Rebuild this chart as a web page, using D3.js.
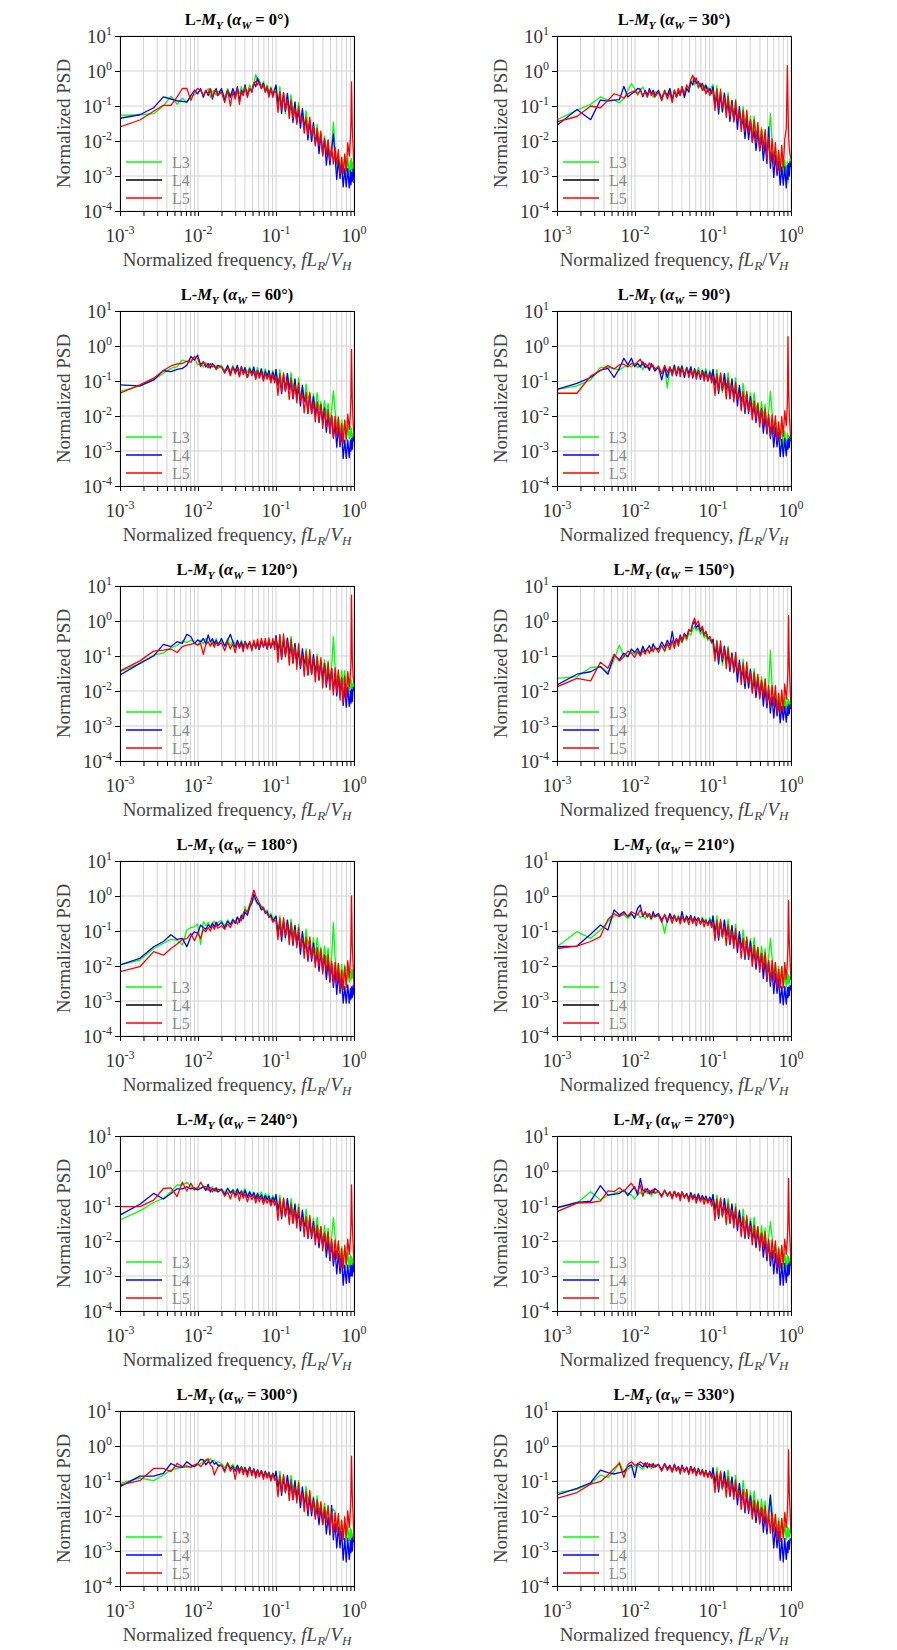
<!DOCTYPE html>
<html><head><meta charset="utf-8">
<script src="https://cdn.jsdelivr.net/npm/d3@7"></script>
<style>
body{margin:0;background:#fff}
svg{display:block}
text{font-family:"Liberation Serif","Times New Roman",serif}
</style>
</head><body>
<script>
// ---------- DATA ----------
const freq = [0.001,0.0018,0.0027,0.0036,0.0045,0.0054,0.0063,0.0072,0.0081,0.009,0.0099,0.0108,0.0117,0.0126,0.0135,0.0144,0.0153,0.0162,0.0171,0.018,
0.02,0.022,0.024,0.026,0.028,0.03,0.032,0.034,0.036,0.038,0.04,0.043,0.046,0.049,0.052,0.055,0.058,0.061,0.065,0.069,0.073,0.077,0.081,0.086,0.091,0.096,
0.1,0.106,0.112,0.118,0.125,0.132,0.14,0.148,0.156,0.165,0.175,0.185,0.195,0.206,0.218,0.23,0.243,0.257,0.271,0.286,0.302,0.319,0.337,0.356,0.376,0.397,0.419,0.442,0.466,0.491,0.517,0.544,0.572,0.601,0.631,0.662,0.694,0.727,0.761,0.796,0.832,0.869,0.9,0.915,0.93,0.95,0.975,1.0];

const angles = [0,30,60,90,120,150,180,210,240,270,300,330];
const seriesNames = ["L3","L4","L5"];
const seriesColors = ["#00ff00","#0000ff","#ff0000"];
const blackLegendL4Angles = [0,30,180,210];
const yTickExps = [1,0,-1,-2,-3,-4];
const xTickExps = [-3,-2,-1,0];

// log10 of normalized PSD, one value per frequency in `freq`
const L3_0 = [-1.27,-1.25,-1.22,-1.0,-0.72,-0.95,-0.78,-0.9,-0.72,-0.68,-0.62,-0.55,-0.7,-0.6,-0.5,-0.75,-0.6,-0.55,-0.7,-0.6,
-0.55,-0.75,-0.5,-0.7,-0.55,-0.8,-0.5,-0.65,-0.45,-0.7,-0.5,-0.6,-0.4,-0.55,-0.35,-0.1,-0.3,-0.25,-0.45,-0.3,-0.55,-0.4,-0.6,-0.45,-0.65,-0.5,
-0.44,-0.98,-0.45,-0.94,-0.71,-1.22,-0.66,-1.16,-0.68,-1.17,-0.91,-1.46,-0.9,-1.44,-1.15,-1.65,-1.13,-1.6,-1.48,-1.99,-1.49,-2.03,-1.52,-2.08,-1.83,-2.35,-1.86,-2.38,-1.97,-2.66,-2.2,-1.46,-2.21,-2.81,-2.41,-2.98,-2.46,-2.87,-2.4,-2.98,-2.5,-2.91,-2.55,-2.85,-2.5,-2.9,-2.6,-2.95];
const L4_0 = [-1.35,-1.25,-1.05,-0.74,-0.8,-0.85,-0.87,-0.89,-0.7,-0.55,-0.65,-0.5,-0.75,-0.55,-0.7,-0.5,-0.8,-0.6,-0.5,-0.7,
-0.5,-0.85,-0.55,-0.75,-0.5,-0.7,-0.45,-0.85,-0.55,-0.65,-0.4,-0.7,-0.5,-0.6,-0.35,-0.45,-0.2,-0.35,-0.5,-0.35,-0.6,-0.45,-0.7,-0.5,-0.7,-0.55,
-0.4,-0.92,-0.66,-1.21,-0.62,-1.15,-0.64,-1.17,-0.89,-1.47,-0.88,-1.46,-1.11,-1.63,-1.07,-1.57,-1.41,-1.97,-1.42,-2.01,-1.47,-2.07,-1.78,-2.36,-1.82,-2.39,-1.94,-2.69,-2.18,-2.68,-2.24,-1.8,-2.47,-3.1,-2.54,-3.08,-2.65,-3.31,-2.79,-3.31,-2.79,-3.34,-2.85,-3.25,-2.9,-3.15,-2.8,-3.2];
const L5_0 = [-1.6,-1.4,-1.15,-0.98,-0.98,-0.74,-0.5,-0.5,-0.84,-0.6,-0.5,-0.55,-0.7,-0.55,-0.65,-0.5,-0.75,-0.6,-0.55,-0.7,
-0.6,-0.9,-0.55,-1.0,-0.6,-0.8,-0.5,-0.95,-0.6,-0.7,-0.45,-0.75,-0.5,-0.6,-0.35,-0.3,-0.4,-0.3,-0.5,-0.4,-0.6,-0.45,-0.75,-0.5,-0.75,-0.55,
-0.62,-1.18,-0.59,-1.08,-0.62,-1.11,-0.82,-1.36,-0.82,-1.36,-1.06,-1.53,-1.0,-1.43,-1.3,-1.78,-1.32,-1.83,-1.32,-1.85,-1.59,-2.14,-1.64,-2.13,-1.72,-2.43,-1.97,-2.38,-1.97,-2.55,-2.15,-2.66,-2.19,-2.65,-2.25,-2.93,-2.47,-2.93,-2.37,-2.86,-2.05,-2.43,-1.9,-1.5,-0.31,-1.6,-2.2,-2.8];

const L3_30 = [-1.4,-1.12,-0.95,-0.74,-0.83,-0.83,-0.91,-0.79,-0.55,-0.36,-0.5,-0.7,-0.55,-0.46,-0.6,-0.7,-0.55,-0.65,-0.75,-0.6,
-0.6,-0.75,-0.55,-0.7,-0.5,-0.75,-0.6,-0.7,-0.5,-0.65,-0.55,-0.7,-0.45,-0.6,-0.35,-0.25,-0.4,-0.3,-0.5,-0.4,-0.55,-0.4,-0.5,-0.45,-0.6,-0.45,
-0.39,-0.94,-0.42,-0.91,-0.66,-1.19,-0.61,-1.11,-0.62,-1.11,-0.84,-1.39,-0.81,-1.39,-1.08,-1.56,-1.02,-1.46,-1.32,-1.81,-1.29,-1.83,-1.29,-1.88,-1.61,-2.12,-1.61,-2.16,-1.74,-2.41,-1.94,-1.22,-1.99,-2.63,-2.17,-2.79,-2.26,-2.83,-2.37,-3.06,-2.54,-2.96,-2.6,-3.2,-2.7,-2.9,-2.5,-2.6];
const L4_30 = [-1.55,-1.1,-1.39,-0.83,-0.86,-0.83,-0.82,-0.44,-0.74,-0.65,-0.6,-0.5,-0.52,-0.74,-0.55,-0.7,-0.5,-0.65,-0.55,-0.7,
-0.55,-0.8,-0.6,-0.7,-0.5,-0.85,-0.55,-0.75,-0.6,-0.7,-0.45,-0.75,-0.5,-0.6,-0.3,-0.4,-0.2,-0.35,-0.3,-0.45,-0.35,-0.55,-0.4,-0.6,-0.5,-0.65,
-0.45,-0.96,-0.69,-1.23,-0.63,-1.16,-0.64,-1.17,-0.87,-1.44,-0.84,-1.41,-1.05,-1.66,-1.02,-1.56,-1.37,-1.93,-1.36,-1.96,-1.44,-2.01,-1.71,-2.27,-1.73,-2.28,-1.84,-2.56,-2.04,-2.64,-1.6,-2.78,-2.32,-3.04,-2.41,-2.98,-2.59,-3.26,-2.74,-3.26,-2.74,-3.34,-2.7,-3.1,-2.65,-3.0,-2.6,-2.75];
const L5_30 = [-1.45,-1.3,-1.0,-1.05,-0.84,-0.65,-0.7,-0.78,-0.65,-0.6,-0.57,-0.65,-0.55,-0.7,-0.6,-0.75,-0.55,-0.7,-0.6,-0.75,
-0.6,-0.85,-0.55,-0.8,-0.6,-0.9,-0.55,-0.75,-0.5,-0.7,-0.45,-0.65,-0.4,-0.5,-0.25,-0.12,-0.3,-0.2,-0.45,-0.35,-0.55,-0.45,-0.65,-0.5,-0.7,-0.55,
-0.57,-1.13,-0.51,-1.06,-0.52,-1.06,-0.75,-1.33,-0.72,-1.31,-0.93,-1.46,-0.85,-1.4,-1.15,-1.73,-1.12,-1.73,-1.12,-1.75,-1.39,-2.04,-1.39,-2.03,-1.47,-2.28,-1.67,-2.23,-1.67,-2.5,-1.9,-2.61,-1.94,-2.65,-2.05,-2.88,-2.27,-2.88,-2.12,-2.76,-1.95,-1.65,0.15,-1.0,-1.8,-2.2,-2.4,-2.5];

const L3_60 = [-1.3,-1.14,-0.97,-0.78,-0.64,-0.59,-0.4,-0.45,-0.4,-0.35,-0.54,-0.5,-0.6,-0.48,-0.55,-0.65,-0.5,-0.6,-0.55,-0.65,
-0.55,-0.7,-0.6,-0.72,-0.55,-0.75,-0.6,-0.7,-0.58,-0.78,-0.62,-0.75,-0.6,-0.8,-0.65,-0.78,-0.62,-0.85,-0.7,-0.82,-0.65,-0.9,-0.72,-0.88,-0.7,-0.95,
-0.69,-1.14,-0.67,-1.06,-0.89,-1.31,-0.79,-1.21,-0.76,-1.19,-0.97,-1.44,-0.91,-1.49,-1.18,-1.61,-1.09,-1.51,-1.37,-1.83,-1.36,-1.83,-1.34,-1.81,-1.59,-2.05,-1.56,-2.01,-1.64,-2.26,-1.84,-1.28,-1.84,-2.38,-2.02,-2.54,-2.11,-2.53,-2.12,-2.71,-2.27,-2.66,-2.3,-2.6,-2.35,-2.7,-2.5,-2.75];
const L4_60 = [-1.11,-1.14,-0.97,-0.7,-0.73,-0.67,-0.64,-0.55,-0.3,-0.4,-0.26,-0.54,-0.45,-0.6,-0.5,-0.62,-0.5,-0.58,-0.65,-0.55,
-0.6,-0.75,-0.55,-0.8,-0.6,-0.72,-0.55,-0.85,-0.6,-0.75,-0.62,-0.9,-0.65,-0.78,-0.6,-0.92,-0.7,-0.85,-0.65,-0.95,-0.72,-0.9,-0.7,-1.0,-0.75,-0.98,
-0.67,-1.11,-0.89,-1.36,-0.81,-1.26,-0.79,-1.24,-0.99,-1.51,-0.94,-1.49,-1.18,-1.71,-1.12,-1.58,-1.42,-1.93,-1.39,-1.93,-1.44,-1.95,-1.69,-2.19,-1.69,-2.18,-1.77,-2.46,-1.97,-2.48,-1.99,-2.63,-2.22,-2.89,-2.31,-2.88,-2.47,-3.21,-2.69,-3.21,-2.69,-3.19,-2.7,-3.0,-2.65,-2.95,-2.6,-2.7];
const L5_60 = [-1.35,-1.11,-0.92,-0.7,-0.57,-0.51,-0.5,-0.43,-0.47,-0.3,-0.35,-0.59,-0.45,-0.55,-0.62,-0.5,-0.6,-0.55,-0.68,-0.58,
-0.6,-0.78,-0.62,-0.85,-0.6,-0.8,-0.65,-0.88,-0.62,-0.82,-0.7,-0.9,-0.68,-0.85,-0.72,-0.95,-0.7,-0.92,-0.75,-1.0,-0.78,-0.95,-0.8,-1.05,-0.82,-1.05,
-0.87,-1.41,-0.79,-1.3,-0.77,-1.29,-0.97,-1.53,-0.92,-1.49,-1.11,-1.63,-1.05,-1.58,-1.35,-1.91,-1.32,-1.91,-1.32,-1.93,-1.61,-2.17,-1.59,-2.13,-1.67,-2.35,-1.85,-2.3,-1.82,-2.5,-2.0,-2.61,-2.01,-2.55,-2.05,-2.78,-2.22,-2.78,-2.12,-2.66,-1.95,-2.38,-1.9,-1.4,-0.1,-1.5,-2.2,-2.6];

const L3_90 = [-1.24,-1.14,-0.97,-0.61,-0.61,-0.64,-0.69,-0.6,-0.54,-0.6,-0.5,-0.62,-0.55,-0.68,-0.5,-0.6,-0.65,-0.52,-0.6,-0.7,
-0.55,-0.75,-0.6,-1.2,-0.62,-0.72,-0.55,-0.8,-0.6,-0.7,-0.55,-0.82,-0.6,-0.75,-0.58,-0.85,-0.65,-0.78,-0.62,-0.88,-0.68,-0.8,-0.65,-0.9,-0.7,-0.85,
-0.69,-1.16,-0.67,-1.09,-0.89,-1.33,-0.79,-1.24,-0.76,-1.21,-0.97,-1.47,-0.91,-1.51,-1.18,-1.64,-1.07,-1.51,-1.37,-1.83,-1.34,-1.83,-1.34,-1.83,-1.61,-2.07,-1.59,-2.06,-1.67,-2.33,-1.87,-1.3,-1.89,-2.48,-2.09,-2.69,-2.21,-2.73,-2.27,-2.96,-2.44,-2.96,-2.5,-2.9,-2.55,-2.85,-2.6,-2.7];
const L4_90 = [-1.24,-1.07,-0.9,-0.69,-0.64,-0.9,-0.64,-0.35,-0.54,-0.35,-0.59,-0.5,-0.6,-0.45,-0.62,-0.55,-0.7,-0.5,-0.6,-0.72,
-0.6,-0.97,-0.62,-0.9,-0.6,-0.78,-0.55,-0.85,-0.6,-0.75,-0.58,-0.9,-0.62,-0.8,-0.6,-0.92,-0.65,-0.85,-0.7,-0.95,-0.7,-0.9,-0.72,-1.0,-0.75,-0.95,
-0.67,-1.11,-0.89,-1.36,-0.81,-1.26,-0.79,-1.24,-0.99,-1.51,-0.94,-1.49,-1.18,-1.71,-1.12,-1.58,-1.42,-1.93,-1.39,-1.93,-1.44,-1.95,-1.71,-2.19,-1.71,-2.21,-1.79,-2.49,-2.01,-2.51,-2.04,-2.65,-2.25,-2.89,-2.33,-2.88,-2.47,-3.16,-2.67,-3.16,-2.64,-3.14,-2.7,-2.95,-2.65,-2.9,-2.6,-2.7];
const L5_90 = [-1.35,-1.35,-0.86,-0.7,-0.56,-0.66,-0.54,-0.52,-0.6,-0.5,-0.54,-0.45,-0.38,-0.55,-0.5,-0.62,-0.48,-0.6,-0.55,-0.65,
-0.6,-0.8,-0.55,-0.75,-0.6,-0.85,-0.62,-0.8,-0.58,-0.88,-0.65,-0.82,-0.62,-0.9,-0.7,-0.85,-0.68,-0.95,-0.72,-0.9,-0.75,-1.0,-0.78,-0.98,-0.8,-1.05,
-0.87,-1.41,-0.79,-1.3,-0.77,-1.26,-0.97,-1.51,-0.92,-1.46,-1.11,-1.6,-1.03,-1.53,-1.33,-1.85,-1.3,-1.85,-1.3,-1.87,-1.57,-2.11,-1.57,-2.08,-1.65,-2.31,-1.82,-2.26,-1.79,-2.45,-1.95,-2.56,-1.97,-2.5,-2.0,-2.7,-2.17,-2.68,-2.02,-2.58,-1.85,-2.28,-1.6,0.27,-1.2,-1.9,-2.4,-2.7];

const L3_120 = [-1.45,-1.21,-0.97,-0.92,-0.76,-0.7,-0.57,-0.61,-0.55,-0.6,-0.69,-0.55,-0.65,-0.5,-0.6,-0.7,-0.55,-0.62,-0.5,-0.65,
-0.55,-0.7,-0.5,-0.72,-0.55,-0.65,-0.6,-0.75,-0.55,-0.7,-0.62,-0.78,-0.6,-0.72,-0.65,-0.8,-0.62,-0.72,-0.58,-0.75,-0.6,-0.7,-0.55,-0.72,-0.58,-0.68,
-0.44,-0.92,-0.39,-0.81,-0.59,-1.03,-0.49,-0.91,-0.44,-0.89,-0.67,-1.17,-0.67,-1.19,-0.88,-1.31,-0.79,-1.18,-1.05,-1.49,-0.99,-1.46,-0.94,-1.43,-1.16,-1.62,-1.11,-1.56,-1.14,-1.79,-1.34,-0.45,-1.29,-1.78,-1.42,-1.91,-1.41,-1.81,-1.42,-2.01,-1.61,-2.01,-1.65,-1.95,-1.7,-1.9,-1.8,-1.95];
const L4_120 = [-1.54,-1.21,-1.0,-0.67,-0.73,-0.59,-0.64,-0.38,-0.45,-0.64,-0.54,-0.6,-0.5,-0.65,-0.4,-0.6,-0.5,-0.66,-0.55,-0.7,
-0.5,-0.72,-0.55,-0.38,-0.6,-0.75,-0.55,-0.7,-0.6,-0.8,-0.58,-0.72,-0.62,-0.8,-0.6,-0.75,-0.65,-0.82,-0.6,-0.72,-0.62,-0.8,-0.6,-0.75,-0.62,-0.7,
-0.42,-0.86,-0.62,-1.09,-0.51,-0.96,-0.49,-0.94,-0.69,-1.19,-0.64,-1.17,-0.88,-1.36,-0.79,-1.21,-1.05,-1.53,-0.99,-1.51,-0.96,-1.48,-1.19,-1.69,-1.16,-1.66,-1.21,-1.89,-1.39,-1.84,-1.37,-1.98,-1.52,-2.14,-1.56,-2.13,-1.67,-2.41,-1.89,-2.46,-1.89,-2.44,-2.0,-2.35,-1.95,-2.3,-1.9,-2.0];
const L5_120 = [-1.43,-1.14,-0.86,-0.83,-0.8,-0.9,-0.73,-0.69,-0.67,-0.64,-0.69,-0.64,-0.95,-0.67,-0.6,-0.72,-0.62,-0.75,-0.6,-0.7,
-0.62,-0.85,-0.6,-0.8,-0.65,-0.9,-0.62,-0.78,-0.65,-0.88,-0.6,-0.8,-0.58,-0.85,-0.55,-0.78,-0.52,-0.8,-0.5,-0.75,-0.5,-0.8,-0.48,-0.78,-0.5,-0.82,
-0.47,-1.18,-0.39,-1.06,-0.37,-1.01,-0.57,-1.26,-0.52,-1.21,-0.73,-1.38,-0.65,-1.28,-0.95,-1.58,-0.87,-1.55,-0.82,-1.53,-1.07,-1.74,-1.01,-1.68,-1.05,-1.91,-1.22,-1.83,-1.19,-1.97,-1.35,-2.11,-1.34,-2.03,-1.4,-2.26,-1.62,-2.31,-1.57,-2.21,-1.45,-1.88,-1.5,-1.2,0.74,-1.0,-1.6,-1.8];

const L3_150 = [-1.64,-1.59,-1.33,-1.3,-1.47,-1.11,-0.69,-1.02,-1.0,-0.88,-0.95,-0.85,-1.0,-0.8,-0.92,-0.78,-0.9,-0.75,-0.85,-0.72,
-0.85,-0.7,-0.88,-0.65,-0.8,-0.6,-0.75,-0.55,-0.7,-0.5,-0.62,-0.45,-0.55,-0.35,-0.4,-0.25,-0.15,-0.28,-0.2,-0.38,-0.3,-0.48,-0.4,-0.55,-0.5,-0.65,
-0.56,-1.04,-0.55,-0.99,-0.79,-1.26,-0.73,-1.16,-0.72,-1.17,-0.94,-1.44,-0.91,-1.54,-1.18,-1.66,-1.09,-1.54,-1.37,-1.86,-1.36,-1.91,-1.36,-1.88,-1.61,-2.09,-1.59,-2.06,-1.64,-2.36,-1.84,-0.83,-1.84,-2.43,-2.02,-2.59,-2.06,-2.53,-2.07,-2.66,-2.19,-2.56,-2.2,-2.5,-2.25,-2.55,-2.3,-2.5];
const L4_150 = [-1.83,-1.52,-1.45,-1.3,-1.52,-0.97,-1.11,-0.92,-1.02,-0.8,-0.9,-0.78,-0.95,-0.72,-0.88,-0.8,-0.7,-0.85,-0.65,-0.78,
-0.8,-0.6,-0.75,-0.55,-0.7,-0.3,-0.65,-0.5,-0.6,-0.4,-0.55,-0.35,-0.45,-0.25,-0.3,-0.1,-0.02,-0.2,-0.1,-0.3,-0.2,-0.4,-0.3,-0.5,-0.45,-0.6,
-0.52,-0.96,-0.76,-1.23,-0.71,-1.16,-0.72,-1.17,-0.94,-1.44,-0.91,-1.41,-1.13,-1.74,-1.12,-1.58,-1.42,-1.93,-1.39,-1.91,-1.39,-1.98,-1.66,-2.19,-1.66,-2.18,-1.74,-2.43,-1.94,-2.48,-1.99,-2.63,-2.17,-2.77,-2.21,-2.71,-2.32,-2.91,-2.44,-2.83,-2.44,-2.89,-2.45,-2.7,-2.4,-2.65,-2.4,-2.5];
const L5_150 = [-1.88,-1.64,-1.71,-1.18,-1.35,-0.95,-1.14,-1.02,-0.86,-0.92,-1.04,-0.88,-1.0,-0.85,-0.95,-0.8,-0.92,-0.78,-0.88,-0.75,
-0.9,-0.7,-0.85,-0.65,-0.82,-0.55,-0.78,-0.5,-0.72,-0.45,-0.6,-0.38,-0.5,-0.25,-0.3,-0.05,0.08,-0.1,0.0,-0.25,-0.15,-0.4,-0.3,-0.5,-0.45,-0.6,
-0.62,-1.15,-0.57,-1.08,-0.57,-1.09,-0.79,-1.36,-0.77,-1.33,-0.99,-1.48,-0.9,-1.48,-1.25,-1.81,-1.2,-1.78,-1.17,-1.77,-1.47,-2.07,-1.47,-2.03,-1.52,-2.23,-1.69,-2.16,-1.67,-2.35,-1.85,-2.46,-1.84,-2.4,-1.85,-2.63,-2.07,-2.63,-1.97,-2.56,-1.8,-2.23,-1.8,-1.3,0.15,-1.2,-1.9,-2.5];

const L3_180 = [-1.97,-1.83,-1.5,-1.35,-1.24,-1.26,-1.4,-0.97,-0.9,-0.88,-0.8,-1.38,-0.73,-0.85,-0.75,-0.9,-0.78,-0.72,-0.85,-0.75,
-0.7,-0.85,-0.68,-0.8,-0.65,-0.78,-0.6,-0.72,-0.55,-0.65,-0.3,-0.5,-0.35,-0.2,-0.05,-0.15,-0.25,-0.2,-0.35,-0.3,-0.45,-0.4,-0.55,-0.5,-0.65,-0.6,
-0.62,-1.09,-0.57,-0.99,-0.79,-1.23,-0.69,-1.11,-0.66,-1.09,-0.87,-1.34,-0.81,-1.41,-1.05,-1.51,-0.95,-1.38,-1.22,-1.71,-1.19,-1.73,-1.19,-1.73,-1.46,-1.95,-1.43,-1.91,-1.49,-2.26,-1.74,-0.76,-1.74,-2.33,-1.92,-2.47,-1.96,-2.38,-1.97,-2.54,-2.09,-2.46,-2.15,-2.4,-2.1,-2.35,-2.1,-2.3];
const L4_180 = [-1.97,-1.78,-1.45,-1.3,-1.11,-1.24,-1.21,-1.45,-1.15,-1.02,-1.07,-0.83,-0.9,-0.95,-0.82,-0.9,-0.78,-0.88,-0.75,-0.85,
-0.75,-0.9,-0.72,-0.82,-0.68,-0.78,-0.6,-0.75,-0.55,-0.65,-0.45,-0.55,-0.3,-0.2,0.05,-0.1,-0.2,-0.25,-0.4,-0.35,-0.5,-0.45,-0.6,-0.55,-0.7,-0.65,
-0.57,-1.03,-0.79,-1.29,-0.71,-1.18,-0.69,-1.17,-0.89,-1.41,-0.84,-1.39,-1.08,-1.66,-1.02,-1.51,-1.32,-1.86,-1.29,-1.86,-1.34,-1.91,-1.61,-2.15,-1.61,-2.14,-1.69,-2.39,-1.89,-2.46,-1.94,-2.61,-2.12,-2.81,-2.21,-2.78,-2.37,-3.06,-2.59,-3.06,-2.54,-3.06,-2.65,-2.95,-2.6,-2.9,-2.55,-2.85];
const L5_180 = [-2.16,-2.02,-1.59,-1.69,-1.5,-1.37,-1.24,-1.22,-1.07,-1.28,-1.07,-1.21,-0.95,-1.02,-0.9,-1.0,-0.85,-0.95,-0.82,-0.92,
-0.85,-0.95,-0.8,-0.9,-0.75,-0.7,-0.8,-0.65,-0.7,-0.5,-0.4,-0.45,-0.25,-0.05,0.17,0.0,-0.1,-0.2,-0.3,-0.35,-0.45,-0.5,-0.6,-0.6,-0.75,-0.7,
-0.72,-1.25,-0.64,-1.16,-0.62,-1.13,-0.82,-1.39,-0.77,-1.33,-0.96,-1.48,-0.9,-1.48,-1.2,-1.78,-1.17,-1.78,-1.17,-1.77,-1.47,-2.04,-1.47,-2.0,-1.52,-2.23,-1.69,-2.16,-1.67,-2.4,-1.87,-2.51,-1.89,-2.45,-1.93,-2.68,-2.12,-2.68,-2.02,-2.61,-1.85,-2.33,-1.8,-1.3,0.0,-1.4,-2.0,-2.6];

const L3_210 = [-1.45,-1.02,-1.21,-0.97,-0.73,-0.57,-0.56,-0.54,-0.64,-0.54,-0.59,-0.5,-0.62,-0.55,-0.65,-0.5,-0.6,-0.68,-0.55,-0.6,
-0.55,-0.7,-1.07,-0.65,-0.55,-0.72,-0.6,-0.68,-0.55,-0.75,-0.6,-0.7,-0.55,-0.72,-0.6,-0.75,-0.58,-0.7,-0.62,-0.78,-0.6,-0.72,-0.65,-0.8,-0.62,-0.75,
-0.59,-1.04,-0.57,-0.96,-0.76,-1.21,-0.69,-1.11,-0.66,-1.09,-0.87,-1.34,-0.81,-1.39,-1.05,-1.51,-0.97,-1.38,-1.25,-1.71,-1.22,-1.73,-1.19,-1.73,-1.46,-1.95,-1.43,-1.91,-1.51,-2.23,-1.74,-1.21,-1.74,-2.33,-1.92,-2.49,-2.01,-2.45,-2.02,-2.64,-2.19,-2.61,-2.2,-2.5,-2.25,-2.5,-2.3,-2.4];
const L4_210 = [-1.45,-1.43,-1.09,-0.83,-0.97,-0.4,-0.54,-0.45,-0.59,-0.5,-0.64,-0.35,-0.26,-0.59,-0.45,-0.6,-0.5,-0.65,-0.45,-0.58,
-0.5,-0.68,-0.55,-0.75,-0.5,-0.65,-0.55,-0.72,-0.6,-0.7,-0.45,-0.72,-0.58,-0.68,-0.55,-0.75,-0.6,-0.7,-0.62,-0.8,-0.65,-0.75,-0.7,-0.82,-0.68,-0.85,
-0.57,-1.01,-0.79,-1.26,-0.71,-1.16,-0.69,-1.14,-0.89,-1.39,-0.84,-1.37,-1.08,-1.61,-1.02,-1.48,-1.29,-1.81,-1.26,-1.81,-1.29,-1.85,-1.56,-2.09,-1.56,-2.08,-1.64,-2.36,-1.84,-2.44,-1.89,-2.58,-2.09,-2.79,-2.21,-2.78,-2.37,-3.06,-2.59,-3.11,-2.59,-3.09,-2.62,-2.9,-2.6,-2.85,-2.55,-2.7];
const L5_210 = [-1.5,-1.43,-1.3,-1.16,-0.67,-0.5,-0.59,-0.5,-0.57,-0.45,-0.5,-0.54,-0.4,-0.55,-0.48,-0.6,-0.5,-0.62,-0.55,-0.6,
-0.55,-0.75,-0.52,-0.7,-0.58,-0.78,-0.55,-0.72,-0.6,-0.8,-0.58,-0.75,-0.62,-0.82,-0.6,-0.78,-0.65,-0.85,-0.62,-0.8,-0.68,-0.88,-0.7,-0.85,-0.72,-0.9,
-0.77,-1.28,-0.69,-1.18,-0.67,-1.16,-0.87,-1.41,-0.82,-1.36,-1.01,-1.5,-0.93,-1.48,-1.25,-1.78,-1.2,-1.75,-1.17,-1.75,-1.44,-2.01,-1.41,-1.96,-1.47,-2.18,-1.65,-2.1,-1.62,-2.35,-1.83,-2.46,-1.84,-2.4,-1.9,-2.63,-2.09,-2.63,-2.02,-2.61,-1.9,-2.38,-1.85,-1.4,-0.13,-1.3,-1.9,-2.4];

const L3_240 = [-1.4,-1.14,-0.9,-0.78,-0.59,-0.4,-0.4,-0.32,-0.45,-0.54,-0.45,-0.5,-0.42,-0.55,-0.48,-0.5,-0.45,-0.58,-0.5,-0.55,
-0.5,-0.62,-0.48,-0.65,-0.52,-0.6,-0.5,-0.68,-0.55,-0.62,-0.5,-0.7,-0.58,-0.72,-0.6,-0.75,-0.62,-0.7,-0.6,-0.8,-0.65,-0.75,-0.68,-0.85,-0.7,-0.82,
-0.72,-1.16,-0.69,-1.09,-0.89,-1.33,-0.81,-1.21,-0.79,-1.19,-0.99,-1.44,-0.94,-1.51,-1.18,-1.64,-1.09,-1.51,-1.37,-1.83,-1.34,-1.83,-1.32,-1.83,-1.59,-2.07,-1.56,-2.04,-1.64,-2.36,-1.87,-1.33,-1.87,-2.48,-2.07,-2.64,-2.16,-2.61,-2.17,-2.78,-2.34,-2.76,-2.4,-2.7,-2.45,-2.7,-2.5,-2.6];
const L4_240 = [-1.26,-0.95,-0.64,-0.8,-0.64,-0.51,-0.51,-0.45,-0.51,-0.48,-0.54,-0.5,-0.45,-0.55,-0.38,-0.6,-0.5,-0.55,-0.48,-0.6,
-0.52,-0.68,-0.5,-0.62,-0.55,-0.7,-0.52,-0.65,-0.58,-0.72,-0.55,-0.75,-0.6,-0.72,-0.62,-0.8,-0.65,-0.78,-0.68,-0.85,-0.7,-0.82,-0.72,-0.9,-0.75,-0.88,
-0.67,-1.11,-0.89,-1.36,-0.81,-1.26,-0.79,-1.24,-0.99,-1.49,-0.94,-1.47,-1.18,-1.71,-1.12,-1.58,-1.42,-1.93,-1.39,-1.93,-1.44,-1.95,-1.71,-2.19,-1.71,-2.18,-1.79,-2.46,-1.99,-2.56,-2.04,-2.71,-2.27,-2.94,-2.36,-2.93,-2.49,-3.26,-2.69,-3.21,-2.69,-3.19,-2.7,-3.0,-2.7,-3.0,-2.65,-2.9];
const L5_240 = [-1.02,-1.02,-0.83,-0.5,-0.48,-0.73,-0.32,-0.57,-0.35,-0.54,-0.5,-0.32,-0.45,-0.45,-0.55,-0.48,-0.6,-0.5,-0.58,-0.52,
-0.55,-0.72,-0.6,-0.8,-0.58,-0.75,-0.62,-0.85,-0.6,-0.78,-0.65,-0.88,-0.68,-0.82,-0.7,-0.92,-0.72,-0.88,-0.75,-0.95,-0.78,-0.92,-0.8,-1.0,-0.82,-0.98,
-0.87,-1.41,-0.79,-1.3,-0.77,-1.29,-0.97,-1.53,-0.92,-1.49,-1.11,-1.63,-1.03,-1.58,-1.33,-1.88,-1.3,-1.88,-1.27,-1.87,-1.57,-2.11,-1.54,-2.06,-1.59,-2.28,-1.77,-2.2,-1.75,-2.45,-1.95,-2.56,-1.97,-2.5,-2.0,-2.76,-2.22,-2.78,-2.12,-2.66,-1.95,-2.38,-1.9,-1.5,-0.4,-1.5,-2.1,-2.7];

const L3_270 = [-1.16,-0.92,-0.59,-0.83,-0.69,-0.64,-0.59,-0.57,-0.64,-0.69,-0.8,-0.67,-0.6,-0.7,-0.55,-0.65,-0.6,-0.72,-0.58,-0.65,
-0.6,-0.7,-0.55,-0.68,-0.6,-0.72,-0.58,-0.7,-0.62,-0.75,-0.6,-0.72,-0.65,-0.78,-0.62,-0.75,-0.65,-0.8,-0.68,-0.78,-0.7,-0.85,-0.72,-0.82,-0.75,-0.88,
-0.72,-1.16,-0.69,-1.09,-0.89,-1.33,-0.81,-1.21,-0.79,-1.19,-0.99,-1.44,-0.94,-1.51,-1.18,-1.64,-1.09,-1.51,-1.37,-1.83,-1.34,-1.83,-1.32,-1.83,-1.59,-2.07,-1.56,-2.04,-1.64,-2.36,-1.87,-1.45,-1.87,-2.48,-2.07,-2.64,-2.16,-2.61,-2.17,-2.78,-2.34,-2.76,-2.4,-2.7,-2.45,-2.7,-2.5,-2.6];
const L4_270 = [-1.05,-0.9,-0.86,-0.42,-0.69,-0.67,-0.64,-0.54,-0.7,-0.56,-0.45,-0.69,-0.21,-0.54,-0.6,-0.5,-0.65,-0.55,-0.62,-0.5,
-0.58,-0.72,-0.55,-0.7,-0.6,-0.75,-0.58,-0.72,-0.62,-0.78,-0.6,-0.75,-0.65,-0.8,-0.62,-0.78,-0.68,-0.82,-0.65,-0.85,-0.7,-0.82,-0.72,-0.9,-0.75,-0.88,
-0.67,-1.11,-0.89,-1.36,-0.81,-1.26,-0.79,-1.24,-0.99,-1.49,-0.94,-1.47,-1.18,-1.71,-1.12,-1.58,-1.42,-1.93,-1.39,-1.93,-1.44,-1.95,-1.71,-2.19,-1.71,-2.18,-1.79,-2.46,-1.99,-2.56,-2.04,-2.71,-2.27,-2.94,-2.36,-2.93,-2.47,-3.26,-2.64,-3.26,-2.64,-3.19,-2.7,-3.0,-2.65,-2.95,-2.6,-2.7];
const L5_270 = [-1.16,-0.92,-0.9,-0.86,-0.57,-0.59,-0.48,-0.59,-0.45,-0.35,-0.5,-0.59,-0.4,-0.72,-0.5,-0.6,-0.55,-0.65,-0.52,-0.62,
-0.58,-0.75,-0.55,-0.72,-0.6,-0.8,-0.58,-0.75,-0.62,-0.85,-0.6,-0.78,-0.65,-0.88,-0.68,-0.82,-0.7,-0.92,-0.72,-0.88,-0.75,-0.95,-0.78,-0.92,-0.8,-1.0,
-0.87,-1.41,-0.79,-1.3,-0.77,-1.29,-0.97,-1.53,-0.92,-1.49,-1.11,-1.63,-1.03,-1.58,-1.33,-1.88,-1.3,-1.88,-1.27,-1.87,-1.57,-2.11,-1.54,-2.06,-1.59,-2.28,-1.77,-2.2,-1.75,-2.45,-1.95,-2.56,-1.97,-2.5,-2.0,-2.76,-2.22,-2.78,-2.12,-2.66,-1.95,-2.38,-1.9,-1.4,-0.21,-1.5,-2.1,-2.7];

const L3_300 = [-1.07,-0.92,-0.99,-0.83,-0.69,-0.64,-0.61,-0.61,-0.59,-0.59,-0.55,-0.5,-0.45,-0.38,-0.42,-0.36,-0.45,-0.4,-0.5,-0.45,
-0.5,-0.62,-0.48,-0.6,-0.52,-0.65,-0.55,-0.68,-0.58,-0.7,-0.6,-0.72,-0.62,-0.75,-0.65,-0.8,-0.68,-0.78,-0.7,-0.85,-0.72,-0.82,-0.75,-0.9,-0.78,-0.88,
-0.76,-1.19,-0.72,-1.11,-0.94,-1.36,-0.86,-1.26,-0.84,-1.24,-1.04,-1.49,-0.99,-1.57,-1.23,-1.68,-1.15,-1.56,-1.42,-1.89,-1.44,-1.89,-1.42,-1.88,-1.66,-2.07,-1.63,-2.04,-1.69,-2.31,-1.89,-1.8,-1.87,-2.43,-2.05,-2.59,-2.16,-2.55,-2.17,-2.74,-2.31,-2.71,-2.35,-2.65,-2.4,-2.7,-2.5,-2.65];
const L4_300 = [-1.16,-0.86,-0.86,-0.78,-0.5,-0.59,-0.61,-0.45,-0.54,-0.59,-0.5,-0.38,-0.4,-0.54,-0.45,-0.5,-0.42,-0.52,-0.48,-0.55,
-0.55,-0.7,-0.52,-0.65,-0.58,-0.72,-0.55,-0.7,-0.6,-0.75,-0.62,-0.78,-0.6,-0.8,-0.65,-0.82,-0.68,-0.85,-0.7,-0.88,-0.72,-0.9,-0.75,-0.95,-0.78,-0.92,
-0.72,-1.16,-0.94,-1.41,-0.86,-1.31,-0.84,-1.29,-1.04,-1.54,-0.99,-1.51,-1.23,-1.76,-1.17,-1.64,-1.47,-1.99,-1.44,-1.99,-1.49,-2.01,-1.76,-2.25,-1.76,-2.24,-1.84,-2.51,-2.04,-2.54,-1.7,-2.68,-2.22,-2.91,-2.31,-2.91,-2.45,-3.26,-2.64,-3.31,-2.64,-3.24,-2.7,-3.05,-2.65,-3.0,-2.6,-2.75];
const L5_300 = [-1.11,-0.99,-0.64,-0.64,-0.73,-0.5,-0.59,-0.57,-0.61,-0.54,-0.5,-0.59,-0.5,-0.42,-0.36,-0.54,-0.6,-0.83,-0.7,-0.6,
-0.55,-0.75,-0.48,-0.72,-0.6,-0.95,-0.62,-0.78,-0.6,-0.82,-0.65,-0.88,-0.62,-0.85,-0.68,-0.92,-0.7,-0.88,-0.72,-0.95,-0.75,-0.92,-0.78,-1.0,-0.8,-0.98,
-0.92,-1.45,-0.84,-1.33,-0.82,-1.31,-1.02,-1.56,-0.97,-1.51,-1.16,-1.63,-1.05,-1.58,-1.35,-1.88,-1.3,-1.88,-1.27,-1.87,-1.57,-2.09,-1.54,-2.03,-1.59,-2.25,-1.75,-2.18,-1.72,-2.4,-1.9,-2.51,-1.91,-2.45,-1.93,-2.68,-2.12,-2.68,-2.02,-2.61,-1.85,-2.33,-1.8,-1.3,-0.29,-1.4,-2.0,-2.7];

const L3_330 = [-1.33,-1.24,-1.07,-0.83,-0.9,-0.73,-0.45,-0.76,-0.67,-0.57,-0.6,-0.54,-0.62,-0.67,-0.55,-0.62,-0.5,-0.65,-0.55,-0.6,
-0.55,-0.7,-0.52,-0.68,-0.58,-0.72,-0.55,-0.7,-0.6,-0.75,-0.58,-0.72,-0.62,-0.78,-0.6,-0.75,-0.65,-0.8,-0.62,-0.78,-0.68,-0.82,-0.7,-0.85,-0.72,-0.85,
-0.66,-1.12,-0.62,-1.03,-0.82,-1.26,-0.73,-1.14,-0.69,-1.11,-0.89,-1.37,-0.84,-1.41,-1.08,-1.56,-0.99,-1.44,-1.27,-1.79,-1.29,-1.79,-1.29,-1.81,-1.53,-2.02,-1.51,-2.01,-1.57,-2.31,-1.81,-1.43,-1.79,-2.38,-1.97,-2.54,-2.06,-2.48,-2.07,-2.66,-2.24,-2.66,-2.3,-2.6,-2.35,-2.6,-2.4,-2.5];
const L4_330 = [-1.4,-1.21,-1.05,-0.69,-0.76,-0.8,-0.76,-0.73,-0.59,-0.54,-0.9,-0.5,-0.54,-0.6,-0.48,-0.62,-0.52,-0.58,-0.5,-0.6,
-0.52,-0.68,-0.5,-0.65,-0.55,-0.72,-0.52,-0.68,-0.58,-0.75,-0.55,-0.7,-0.6,-0.78,-0.58,-0.72,-0.62,-0.8,-0.65,-0.82,-0.68,-0.85,-0.7,-0.88,-0.72,-0.9,
-0.62,-1.06,-0.84,-1.31,-0.76,-1.21,-0.74,-1.19,-0.94,-1.44,-0.89,-1.41,-1.13,-1.68,-1.07,-1.56,-1.37,-1.91,-1.36,-1.93,-1.42,-1.95,-1.69,-2.19,-1.69,-2.18,-1.77,-2.46,-1.97,-2.51,-1.99,-1.4,-2.22,-2.91,-2.31,-2.91,-2.45,-3.26,-2.64,-3.31,-2.64,-3.24,-2.75,-3.05,-2.7,-2.95,-2.65,-2.7];
const L5_330 = [-1.5,-1.33,-1.09,-1.02,-0.83,-0.64,-0.5,-0.9,-0.53,-0.45,-0.55,-0.52,-0.45,-0.5,-0.58,-0.48,-0.6,-0.52,-0.62,-0.55,
-0.55,-0.72,-0.52,-0.7,-0.58,-0.75,-0.55,-0.72,-0.6,-0.8,-0.58,-0.75,-0.62,-0.82,-0.6,-0.78,-0.65,-0.85,-0.68,-0.82,-0.7,-0.88,-0.72,-0.9,-0.75,-0.92,
-0.82,-1.33,-0.74,-1.23,-0.72,-1.21,-0.92,-1.46,-0.87,-1.41,-1.06,-1.53,-0.97,-1.48,-1.27,-1.81,-1.24,-1.83,-1.24,-1.85,-1.57,-2.09,-1.54,-2.03,-1.59,-2.23,-1.75,-2.16,-1.72,-2.35,-1.9,-2.49,-1.91,-2.45,-1.95,-2.68,-2.15,-2.73,-2.07,-2.61,-1.9,-2.33,-1.85,-1.35,-0.11,-1.3,-1.9,-2.5];

// table built from the arrays above
const panelSeries = {
  0:[L3_0,L4_0,L5_0], 30:[L3_30,L4_30,L5_30], 60:[L3_60,L4_60,L5_60], 90:[L3_90,L4_90,L5_90],
  120:[L3_120,L4_120,L5_120], 150:[L3_150,L4_150,L5_150], 180:[L3_180,L4_180,L5_180], 210:[L3_210,L4_210,L5_210],
  240:[L3_240,L4_240,L5_240], 270:[L3_270,L4_270,L5_270], 300:[L3_300,L4_300,L5_300], 330:[L3_330,L4_330,L5_330]
};

// ---------- LAYOUT ----------
const W = 897, H = 1650;
const colLeft = [120, 557];
const plotW = 234, plotH = 175, top0 = 36, rowStep = 275;

const svg = d3.select("body").append("svg").attr("width", W).attr("height", H);

const x = d3.scaleLog().domain([1e-3, 1]).range([0, plotW]);
const y = d3.scaleLog().domain([1e-4, 10]).range([plotH, 0]);

const xGrid = [];
xTickExps.slice(0, -1).forEach(e => { for (let m = 1; m <= 9; m++) xGrid.push(+(m * Math.pow(10, e)).toPrecision(3)); });
xGrid.push(1);
const yMajor = yTickExps.map(e => Math.pow(10, e));

svg.append("defs").append("clipPath").attr("id", "plotclip")
  .append("rect").attr("x", 0).attr("y", 0).attr("width", plotW).attr("height", plotH);

const problems = [];

angles.forEach((ang, pi) => {
  const col = pi % 2, row = Math.floor(pi / 2);
  const g = svg.append("g").attr("transform", `translate(${colLeft[col]},${top0 + row * rowStep})`);

  // grid
  g.append("g").selectAll("line").data(xGrid).join("line")
    .attr("x1", d => x(d)).attr("x2", d => x(d)).attr("y1", 0).attr("y2", plotH)
    .attr("stroke", "#d3d3d3").attr("stroke-width", 1);
  g.append("g").selectAll("line").data(yMajor).join("line")
    .attr("x1", 0).attr("x2", plotW).attr("y1", d => y(d)).attr("y2", d => y(d))
    .attr("stroke", "#d3d3d3").attr("stroke-width", 1);

  // series
  const line = d3.line().x((d, i) => x(freq[i])).y(d => y(Math.pow(10, d)));
  const lg = g.append("g").attr("clip-path", "url(#plotclip)");
  panelSeries[ang].forEach((arr, si) => {
    if (arr.length !== freq.length) problems.push(`${seriesNames[si]}_${ang}: ${arr.length}`);
    lg.append("path").datum(arr).attr("d", line)
      .attr("fill", "none").attr("stroke", seriesColors[si]).attr("stroke-width", 1.3)
      .attr("stroke-linejoin", "round");
  });

  // frame
  g.append("rect").attr("x", 0.5).attr("y", 0.5).attr("width", plotW).attr("height", plotH)
    .attr("fill", "none").attr("stroke", "#000").attr("stroke-width", 1);

  // axes
  const ax = g.append("g").attr("transform", `translate(0,${plotH})`)
    .call(d3.axisBottom(x).tickValues(xGrid).tickSize(5).tickFormat(""));
  ax.select(".domain").remove();
  const ay = g.append("g").call(d3.axisLeft(y).tickValues(yMajor).tickSize(5).tickFormat(""));
  ay.select(".domain").remove();

  // tick labels
  xTickExps.forEach(e => {
    const t = g.append("text").attr("x", x(Math.pow(10, e))).attr("y", plotH + 31)
      .attr("text-anchor", "middle").attr("font-size", 19).attr("fill", "#333");
    t.append("tspan").text("10");
    t.append("tspan").attr("dy", -8).attr("font-size", 12).text(e);
  });
  yTickExps.forEach(e => {
    const t = g.append("text").attr("x", -8).attr("y", y(Math.pow(10, e)) + 6.5)
      .attr("text-anchor", "end").attr("font-size", 19).attr("fill", "#333");
    t.append("tspan").text("10");
    t.append("tspan").attr("dy", -8).attr("font-size", 12).text(e);
  });

  // axis labels
  const xl = g.append("text").attr("x", plotW / 2).attr("y", plotH + 55)
    .attr("text-anchor", "middle").attr("font-size", 19).attr("fill", "#444");
  xl.append("tspan").text("Normalized frequency, ");
  xl.append("tspan").attr("font-style", "italic").text("fL");
  xl.append("tspan").attr("font-style", "italic").attr("font-size", 13).attr("dy", 4).text("R");
  xl.append("tspan").attr("dy", -4).text("/");
  xl.append("tspan").attr("font-style", "italic").text("V");
  xl.append("tspan").attr("font-style", "italic").attr("font-size", 13).attr("dy", 4).text("H");

  g.append("text").attr("transform", `translate(-50,${plotH / 2}) rotate(-90)`)
    .attr("text-anchor", "middle").attr("font-size", 19).attr("fill", "#444")
    .text("Normalized PSD");

  // title
  const tt = g.append("text").attr("x", plotW / 2).attr("y", -11)
    .attr("text-anchor", "middle").attr("font-size", 16.5).attr("font-weight", "bold").attr("fill", "#000");
  tt.append("tspan").text("L-");
  tt.append("tspan").attr("font-style", "italic").text("M");
  tt.append("tspan").attr("font-style", "italic").attr("font-size", 11).attr("dy", 4).text("Y");
  tt.append("tspan").attr("dy", -4).text(" (");
  tt.append("tspan").attr("font-style", "italic").text("α");
  tt.append("tspan").attr("font-style", "italic").attr("font-size", 11).attr("dy", 4).text("W");
  tt.append("tspan").attr("dy", -4).text(` = ${ang}°)`);

  // legend
  seriesNames.forEach((nm, si) => {
    const ly = 126 + si * 18;
    let c = seriesColors[si];
    if (si === 1 && blackLegendL4Angles.includes(ang)) c = "#000";
    g.append("line").attr("x1", 6).attr("x2", 42).attr("y1", ly).attr("y2", ly)
      .attr("stroke", c).attr("stroke-width", 1.3);
    g.append("text").attr("x", 52).attr("y", ly + 5.5).attr("font-size", 16).attr("fill", "#888").text(nm);
  });
});

if (problems.length) {
  svg.append("text").attr("x", 10).attr("y", 14).attr("font-size", 12).attr("fill", "magenta").text(problems.join(" | "));
}
</script>
</body></html>
